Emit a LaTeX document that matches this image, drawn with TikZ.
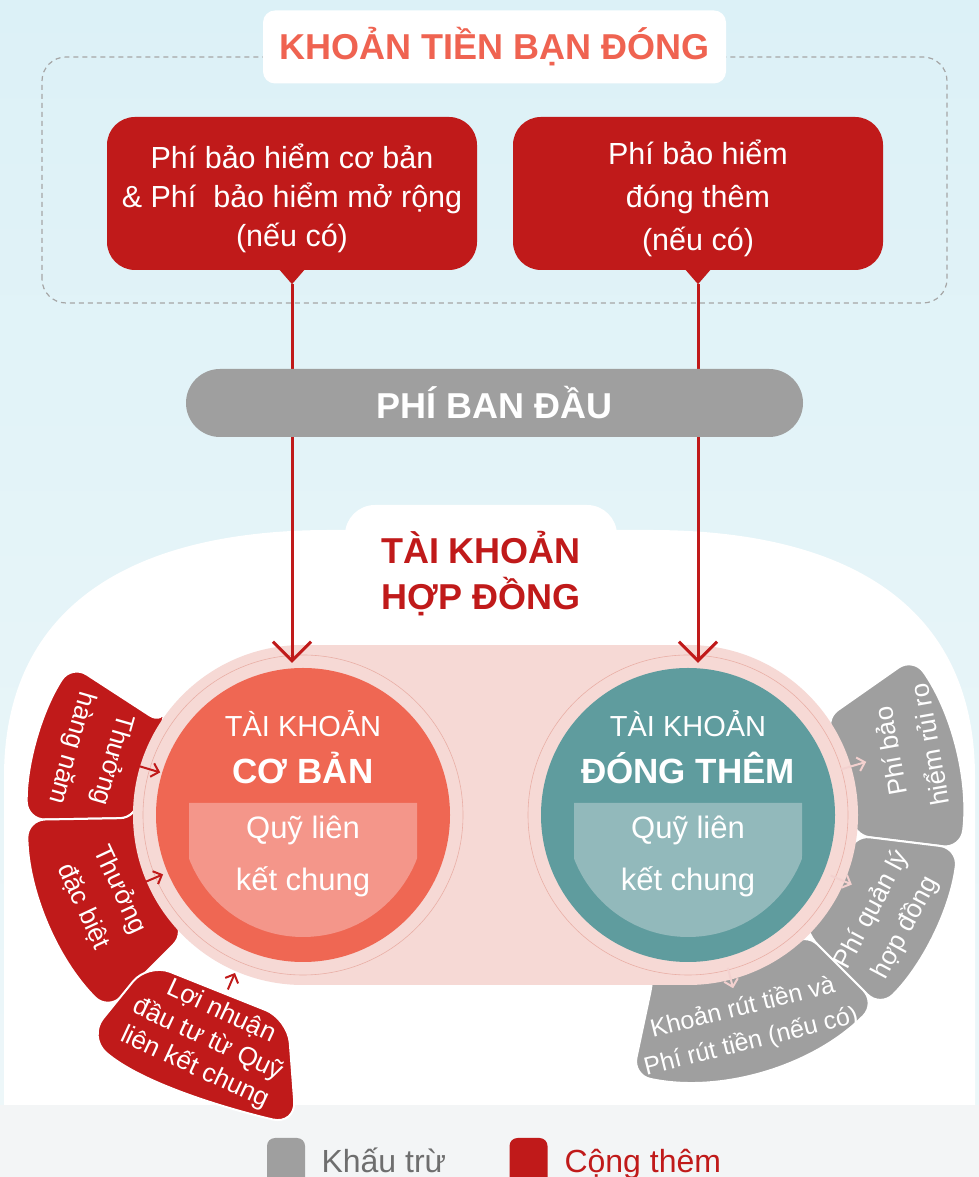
\documentclass[tikz,border=0pt]{standalone}
\usepackage{fontspec}
\setmainfont{Liberation Sans}
\usetikzlibrary{arrows.meta,calc}
\definecolor{cred}{HTML}{C01A1A}
\definecolor{ctitle}{HTML}{EF6351}
\definecolor{corange}{HTML}{EF6753}
\definecolor{clorange}{HTML}{F4968A}
\definecolor{cteal}{HTML}{5F9C9E}
\definecolor{clteal}{HTML}{92B9BB}
\definecolor{cpink}{HTML}{F6D9D5}
\definecolor{cpinkline}{HTML}{E9AFA6}
\definecolor{cgray}{HTML}{9F9F9F}
\definecolor{cdark}{HTML}{6E6E6E}
\definecolor{bgtop}{HTML}{DCF1F7}
\definecolor{bgbot}{HTML}{EEF7F9}
\definecolor{bgband}{HTML}{F3F5F6}
\begin{document}
\begin{tikzpicture}[x=1pt,y=1pt,
    redbox/.style={fill=cred,rounded corners=28pt,minimum width=370pt,minimum height=153pt},
    boxtext/.style={text=white,align=center,font=\fontsize{30.5}{39}\selectfont},
    seg/.style={draw=white,line width=2pt,rounded corners=18pt},
    flow/.style={cred,line width=3pt,-{Straight Barb[length=19pt,width=38pt]}},
    inarr/.style={cred,line width=2pt,-{Straight Barb[length=7pt,width=14pt]}},
    outarr/.style={cpink!80!cred!60,line width=2pt,-{Straight Barb[length=7pt,width=14pt]}},
    acctxt/.style={text=white,anchor=base,font=\fontsize{29}{34}\selectfont},
    segtext/.style={text=white,align=center,font=\fontsize{26}{40}\selectfont},
    legsq/.style={rectangle,rounded corners=8pt,minimum width=38pt,minimum height=52pt,inner sep=0pt}]
    \useasboundingbox (0,0) rectangle (979,1177);
    \clip (0,0) rectangle (979,1177);
    % background
    \shade[top color=bgtop,bottom color=bgbot] (0,0) rectangle (979,1177);
    \fill[bgband] (0,0) rectangle (979,72);
    \fill[white] (4,72) -- (4,400) .. controls (4,570) and (130,647) .. (330,647) -- (650,647)
        .. controls (850,647) and (975,570) .. (975,400) -- (975,72) -- cycle;
    % what you pay
    \draw[gray!70,dashed,line width=1.2pt,dash pattern=on 5pt off 4pt,rounded corners=24pt] (42,874) rectangle (947,1120);
    \node[fill=white,rounded corners=12pt,minimum width=463pt,minimum height=73pt,text=ctitle,
        font=\bfseries\fontsize{36}{40}\selectfont] (title) at (494.5,1130) {KHOẢN TIỀN BẠN ĐÓNG};
    \node[redbox] (basefee) at (292,983.5) {};
    \node[boxtext] (basefeetext) at ($(basefee)+(0,-5)$) {Phí bảo hiểm cơ bản\\\& Phí~ bảo hiểm mở rộng\\(nếu có)};
    \node[redbox] (topfee) at (698,983.5) {};
    \node[boxtext,font=\fontsize{30.5}{43}\selectfont] (topfeetext) at ($(topfee)+(0,-5)$) {Phí bảo hiểm\\đóng thêm\\(nếu có)};
    \fill[cred] ($(basefee.south)+(-13,1)$) -- ($(basefee.south)+(0,-14)$) -- ($(basefee.south)+(13,1)$) -- cycle;
    \fill[cred] ($(topfee.south)+(-13,1)$) -- ($(topfee.south)+(0,-14)$) -- ($(topfee.south)+(13,1)$) -- cycle;
    % deductions and additions
    \filldraw[seg,fill=cred] ([shift={(303,362)}]147:165) -- ([shift={(303,362)}]147:276) arc[start angle=147,end angle=181,radius=276]
        -- ([shift={(303,362)}]181:165) arc[start angle=181,end angle=147,radius=165] -- cycle;
    \filldraw[seg,fill=cred] ([shift={(303,362)}]181:165) -- ([shift={(303,362)}]181:276) arc[start angle=181,end angle=225,radius=276]
        -- ([shift={(303,362)}]225:165) arc[start angle=225,end angle=181,radius=165] -- cycle;
    \filldraw[seg,fill=cred,rounded corners=24pt] (148,214) -- (288,158) -- (296,52)
        .. controls (220,70) and (140,95) .. (88,140) -- cycle;
    \filldraw[seg,fill=cgray] ([shift={(688,362)}]-7:165) -- ([shift={(688,362)}]-7:275) arc[start angle=-7,end angle=35,radius=275]
        -- ([shift={(688,362)}]35:165) arc[start angle=35,end angle=-7,radius=165] -- cycle;
    \filldraw[seg,fill=cgray] ([shift={(688,362)}]-45:165) -- ([shift={(688,362)}]-45:272) arc[start angle=-45,end angle=-7,radius=272]
        -- ([shift={(688,362)}]-7:165) arc[start angle=-7,end angle=-45,radius=165] -- cycle;
    \filldraw[seg,fill=cgray] ([shift={(688,362)}]-102:165) -- ([shift={(688,362)}]-102:266) arc[start angle=-102,end angle=-45,radius=266]
        -- ([shift={(688,362)}]-45:165) arc[start angle=-45,end angle=-102,radius=165] -- cycle;
    % contract account
    \fill[cpink] (303,362) circle (170);
    \fill[cpink] (688,362) circle (170);
    \fill[cpink] (303,192) rectangle (688,532);
    \draw[cpinkline,line width=0.6pt] (303,362) circle (160) (688,362) circle (160);
    \node[circle,fill=corange,minimum size=294pt,inner sep=0pt] (cb) at (303,362) {};
    \node[circle,fill=cteal,minimum size=294pt,inner sep=0pt] (dt) at (688,362) {};
    \begin{scope}
        \clip (189,374) rectangle (417,200) (574,374) rectangle (802,200);
        \fill[clorange] (cb) circle (122);
        \fill[clteal] (dt) circle (122);
    \end{scope}
    \node[acctxt] (cbhead) at (303,440) {TÀI KHOẢN};
    \node[acctxt,font=\bfseries\fontsize{35}{40}\selectfont] (cbname) at (303,393) {CƠ BẢN};
    \node[acctxt,font=\fontsize{31}{36}\selectfont] (cbfund) at (303,338) {Quỹ liên};
    \node[acctxt,font=\fontsize{31}{36}\selectfont] (cbfund2) at (303,286) {kết chung};
    \node[acctxt] (dthead) at (688,440) {TÀI KHOẢN};
    \node[acctxt,font=\bfseries\fontsize{35}{40}\selectfont] (dtname) at (688,393) {ĐÓNG THÊM};
    \node[acctxt,font=\fontsize{31}{36}\selectfont] (dtfund) at (688,338) {Quỹ liên};
    \node[acctxt,font=\fontsize{31}{36}\selectfont] (dtfund2) at (688,286) {kết chung};
    % flows
    \draw[flow] ($(basefee.south)+(0,-14)$) -- ($(basefee.south |- cb.north)+(0,5)$);
    \draw[flow] ($(topfee.south)+(0,-14)$) -- ($(topfee.south |- dt.north)+(0,5)$);
    \node[fill=cgray,rounded corners=34pt,minimum width=617pt,minimum height=68pt,text=white,
        font=\bfseries\fontsize{36}{40}\selectfont] (initfee) at (494.5,774) {PHÍ BAN ĐẦU};
    \node[fill=white,rounded corners=30pt,minimum width=272pt,minimum height=137pt,text=cred,align=center,
        font=\bfseries\fontsize{36}{46}\selectfont] (account) at (481,603.5) {TÀI KHOẢN\\HỢP ĐỒNG};
    \draw[inarr] ($(cb)+(163.4:180)$) -- ($(cb)+(163.4:149)$);
    \draw[inarr] ($(cb)+(203:182)$) -- ($(cb)+(203:152)$);
    \draw[inarr] ($(cb)+(246.7:190)$) -- ($(cb)+(246.7:172)$);
    \draw[outarr] ($(dt)+(16.6:160)$) -- ($(dt)+(16.6:186)$);
    \draw[outarr] ($(dt)+(-23:155)$) -- ($(dt)+(-23:178)$);
    \draw[outarr] ($(dt)+(-75.4:158)$) -- ($(dt)+(-75.4:179)$);
    \node[segtext,rotate=-106,font=\fontsize{26}{42}\selectfont] (bonus) at (92,423) {Thưởng\\hàng năm};
    \node[segtext,rotate=-65] (special) at (102,279) {Thưởng\\đặc biệt};
    \node[segtext,rotate=-25,font=\fontsize{26}{31}\selectfont] (profit) at (208,137) {Lợi nhuận\\đầu tư từ Quỹ\\liên kết chung};
    \node[segtext,rotate=100] (riskfee) at (910,429) {Phí bảo\\hiểm rủi ro};
    \node[segtext,rotate=62,font=\fontsize{26}{38}\selectfont] (adminfee) at (889,258) {Phí quản lý\\hợp đồng};
    \node[segtext,rotate=14,font=\fontsize{25}{35}\selectfont] (withdraw) at (747,152) {Khoản rút tiền và\\Phí rút tiền (nếu có)};
    % legend
    \node[legsq,fill=cgray] (minussq) at (286,13) {};
    \node[anchor=base west,text=cdark,font=\fontsize{32}{36}\selectfont] (minus) at (318,5) {Khấu trừ};
    \node[legsq,fill=cred] (plussq) at (528.5,13) {};
    \node[anchor=base west,text=cred,font=\fontsize{32}{36}\selectfont] (plus) at (561,5) {Cộng thêm};
\end{tikzpicture}
\end{document}
